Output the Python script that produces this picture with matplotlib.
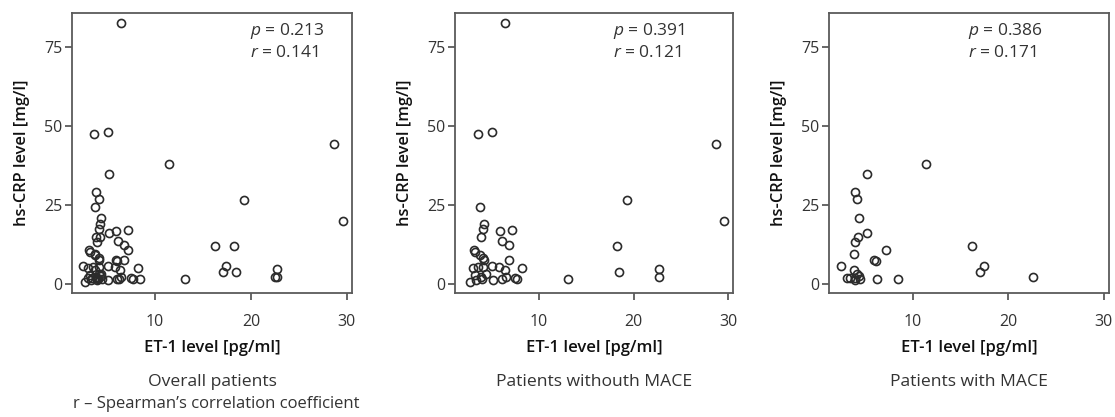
import matplotlib
matplotlib.use("Agg")
import matplotlib.pyplot as plt
import numpy as np

plt.rcParams['font.family'] = ['Open Sans', 'DejaVu Sans']
plt.rcParams['mathtext.fontset'] = 'custom'
plt.rcParams['mathtext.it'] = 'Open Sans:italic'
plt.rcParams['mathtext.rm'] = 'Open Sans'

# Patients without MACE: ET-1 [pg/ml], hs-CRP [mg/l]
no_mace_et1 = [6.4, 3.58, 5.06, 28.7, 29.6, 19.3, 18.25, 18.4, 22.7, 22.7, 13.1,
               3.76, 4.2, 4.1, 3.86, 5.87, 7.18, 6.08, 6.8, 3.1, 3.25, 3.7, 4.1,
               4.15, 6.8, 3.05, 3.55, 4.1, 5.06, 5.8, 6.35, 8.17, 3.23, 4.35,
               3.85, 2.7, 3.3, 4.0, 5.1, 6.05, 6.45, 7.46, 7.65]
no_mace_crp = [82.4, 47.3, 48.1, 44.2, 19.8, 26.6, 12.0, 3.7, 4.65, 2.1, 1.4,
               24.4, 19.0, 17.3, 14.7, 16.6, 17.0, 13.5, 12.2, 10.8, 10.1, 9.2, 8.1,
               7.4, 7.4, 4.9, 5.2, 5.2, 5.8, 5.2, 4.3, 4.9, 2.8, 3.1,
               2.2, 0.7, 1.2, 1.4, 1.3, 1.4, 2.3, 2.0, 1.5]

# Patients with MACE
mace_et1 = [11.41, 5.22, 3.87, 4.12, 4.32, 5.2, 4.2, 3.95, 7.2, 3.77, 2.44, 5.92,
            6.07, 16.23, 17.45, 17.07, 22.56, 6.2, 8.4, 3.77, 4.15, 3.05, 3.4,
            3.95, 4.35, 3.95, 4.45]
mace_crp = [37.8, 34.7, 29.2, 27.0, 20.7, 16.1, 14.9, 13.1, 10.8, 9.4, 5.7, 7.5,
            7.1, 12.1, 5.7, 3.7, 2.2, 1.5, 1.4, 4.3, 3.1, 2.0, 2.0,
            2.0, 2.4, 1.3, 1.6]

# Overall = both groups
overall_et1 = no_mace_et1 + mace_et1
overall_crp = no_mace_crp + mace_crp

panel_titles = ["Overall patients", "Patients withouth MACE", "Patients with MACE"]
p_values = ["0.213", "0.391", "0.386"]
r_values = ["0.141", "0.121", "0.171"]
xticks = [10, 20, 30]
yticks = [0, 25, 50, 75]

W, H = 1115, 417
fig = plt.figure(figsize=(W / 100, H / 100), dpi=100)

axes_px = [(72, 352), (455, 733), (829, 1109)]
xlims = [(1.33, 30.55), (1.1, 30.5), (1.19, 30.56)]
ann_x = [0.636, 0.568, 0.497]
top_px, bot_px = 13, 293

datasets = [(overall_et1, overall_crp), (no_mace_et1, no_mace_crp), (mace_et1, mace_crp)]
spine_col = '#5a5a5a'
txt_col = '#333333'

for i, ((l, r), (xs, ys)) in enumerate(zip(axes_px, datasets)):
    ax = fig.add_axes([l / W, (H - bot_px) / H, (r - l) / W, (bot_px - top_px) / H])
    ax.plot(xs, ys, linestyle='none', marker='o', markersize=5.8,
            markerfacecolor='none', markeredgecolor='#2b2b2b', markeredgewidth=1.2)
    ax.set_xlim(*xlims[i])
    ax.set_ylim(-2.9, 85.7)
    ax.set_xticks(xticks)
    ax.set_yticks(yticks)
    for s in ax.spines.values():
        s.set_color(spine_col)
        s.set_linewidth(1.3)
    ax.tick_params(axis='both', colors=spine_col, length=5, width=1.3,
                   labelsize=11.5, labelcolor=txt_col)
    ax.tick_params(axis='x', pad=10)
    ax.tick_params(axis='y', pad=2)
    ax.set_ylabel("hs-CRP level [mg/l]", fontsize=11.8, fontweight='semibold',
                  color='#111111', labelpad=10)
    ax.set_xlabel("ET-1 level [pg/ml]", fontsize=12, fontweight='semibold',
                  color='#111111', labelpad=7)
    ax.text(ann_x[i], 0.936, r"$\it{p}$ = " + p_values[i], transform=ax.transAxes,
            fontsize=12.5, color=txt_col, va='center', ha='left')
    ax.text(ann_x[i], 0.857, r"$\it{r}$ = " + r_values[i], transform=ax.transAxes,
            fontsize=12.5, color=txt_col, va='center', ha='left')
    cx = (l + r) / 2 / W
    fig.text(cx, 1 - 382 / H, panel_titles[i], ha='center', va='center',
             fontsize=12.6, color=txt_col)

fig.text(216 / W, 1 - 404 / H, "r \u2013 Spearman\u2019s correlation coefficient",
         ha='center', va='center', fontsize=12, color=txt_col)

fig.savefig("out.png", dpi=100)
